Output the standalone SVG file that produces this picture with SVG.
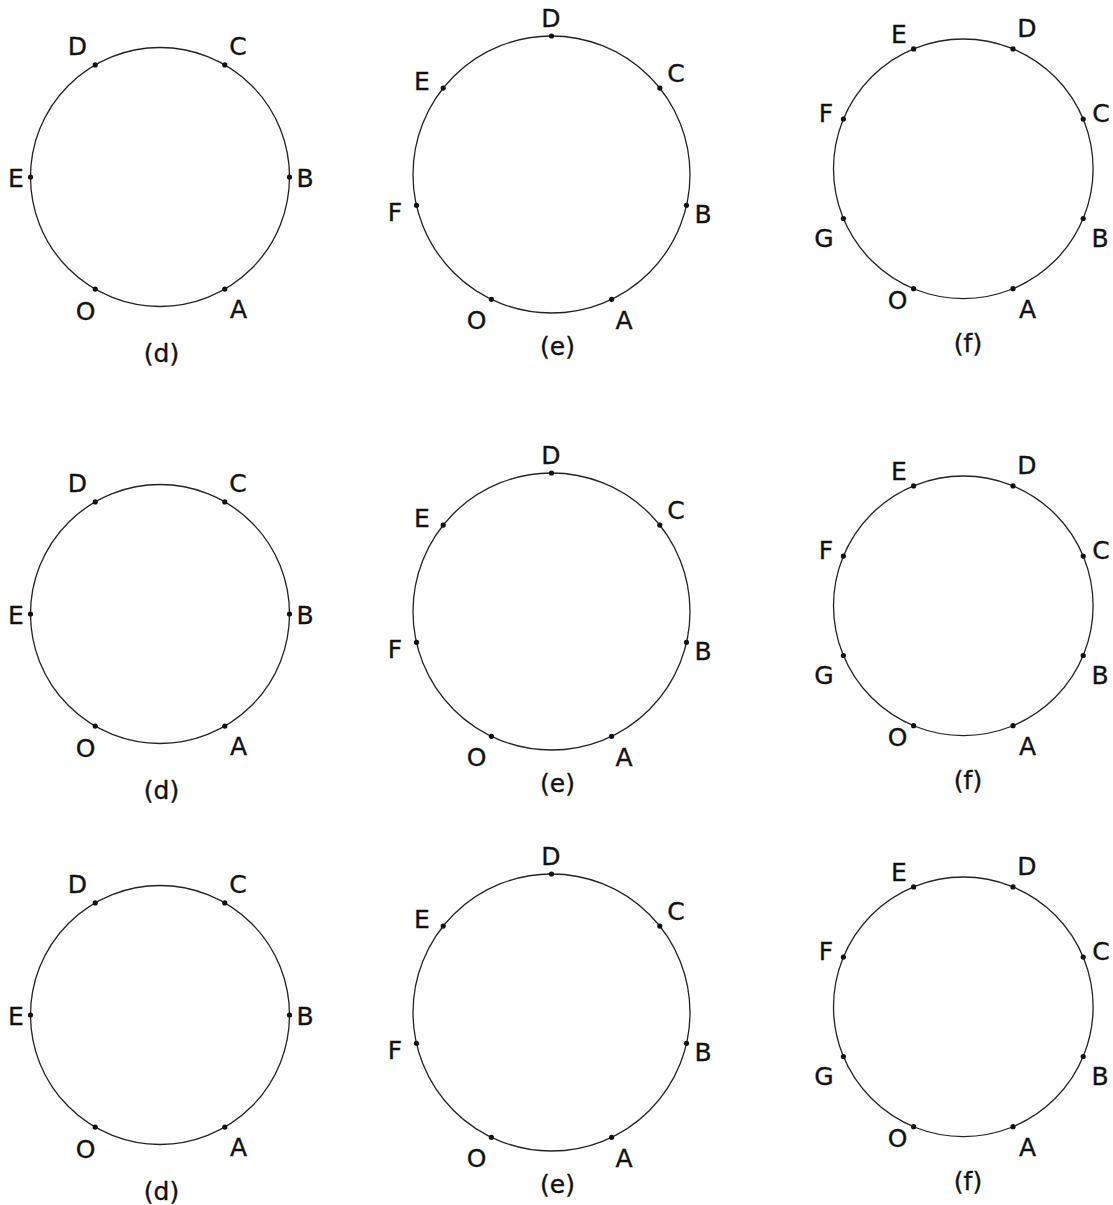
<svg xmlns="http://www.w3.org/2000/svg" width="1113" height="1205" viewBox="0 0 1113 1205">
<style>
.ring{fill:none;stroke:#222;stroke-width:1.3}
.pt{fill:#111}
.lb{font-family:"DejaVu Sans","Liberation Sans",sans-serif;font-size:25px;fill:#111;stroke:#111;stroke-width:0.35;text-anchor:middle}
</style>
<rect width="1113" height="1205" fill="#fff"/>
<g id="row1">
 <g id="connectors1">
  <circle class="ring" cx="160" cy="177" r="129.5"/>
  <circle class="ring" cx="551.5" cy="174.5" r="138.5"/>
  <circle class="ring" cx="963.3" cy="168.8" r="129.8"/>
 </g>
 <g id="d1">
  <g id="d1-B"><circle class="pt" cx="289.5" cy="177" r="2.6"/><text class="lb" x="305" y="186.5">B</text></g>
  <g id="d1-C"><circle class="pt" cx="224.8" cy="64.9" r="2.6"/><text class="lb" x="238" y="54.5">C</text></g>
  <g id="d1-D"><circle class="pt" cx="95.2" cy="64.9" r="2.6"/><text class="lb" x="77.5" y="54.5">D</text></g>
  <g id="d1-E"><circle class="pt" cx="30.5" cy="177" r="2.6"/><text class="lb" x="16" y="186.5">E</text></g>
  <g id="d1-O"><circle class="pt" cx="95.2" cy="289.1" r="2.6"/><text class="lb" x="85.5" y="320">O</text></g>
  <g id="d1-A"><circle class="pt" cx="224.8" cy="289.1" r="2.6"/><text class="lb" x="238.5" y="317.5">A</text></g>
  <text class="lb" x="161.5" y="362">(d)</text>
 </g>
 <g id="e1">
  <g id="e1-D"><circle class="pt" cx="551.5" cy="36" r="2.6"/><text class="lb" x="551" y="27">D</text></g>
  <g id="e1-C"><circle class="pt" cx="659.8" cy="88.1" r="2.6"/><text class="lb" x="676" y="81.5">C</text></g>
  <g id="e1-B"><circle class="pt" cx="686.5" cy="205.3" r="2.6"/><text class="lb" x="703" y="222.5">B</text></g>
  <g id="e1-A"><circle class="pt" cx="611.6" cy="299.3" r="2.6"/><text class="lb" x="624" y="328.5">A</text></g>
  <g id="e1-O"><circle class="pt" cx="491.4" cy="299.3" r="2.6"/><text class="lb" x="476.5" y="329">O</text></g>
  <g id="e1-F"><circle class="pt" cx="416.5" cy="205.3" r="2.6"/><text class="lb" x="395" y="220.5">F</text></g>
  <g id="e1-E"><circle class="pt" cx="443.2" cy="88.1" r="2.6"/><text class="lb" x="422" y="89.5">E</text></g>
  <text class="lb" x="557.5" y="355">(e)</text>
 </g>
 <g id="f1">
  <g id="f1-D"><circle class="pt" cx="1013" cy="48.9" r="2.6"/><text class="lb" x="1027" y="36.5">D</text></g>
  <g id="f1-E"><circle class="pt" cx="913.6" cy="48.9" r="2.6"/><text class="lb" x="899" y="42.5">E</text></g>
  <g id="f1-C"><circle class="pt" cx="1083.2" cy="119.1" r="2.6"/><text class="lb" x="1101" y="122">C</text></g>
  <g id="f1-F"><circle class="pt" cx="843.4" cy="119.1" r="2.6"/><text class="lb" x="826" y="122">F</text></g>
  <g id="f1-B"><circle class="pt" cx="1083.2" cy="218.5" r="2.6"/><text class="lb" x="1100" y="246.5">B</text></g>
  <g id="f1-G"><circle class="pt" cx="843.4" cy="218.5" r="2.6"/><text class="lb" x="824" y="247">G</text></g>
  <g id="f1-A"><circle class="pt" cx="1013" cy="288.7" r="2.6"/><text class="lb" x="1027.5" y="317.5">A</text></g>
  <g id="f1-O"><circle class="pt" cx="913.6" cy="288.7" r="2.6"/><text class="lb" x="897.5" y="309">O</text></g>
  <text class="lb" x="968" y="352">(f)</text>
 </g>
</g>
<g id="row2" transform="translate(0,437)">
 <g id="connectors2">
  <circle class="ring" cx="160" cy="177" r="129.5"/>
  <circle class="ring" cx="551.5" cy="174.5" r="138.5"/>
  <circle class="ring" cx="963.3" cy="168.8" r="129.8"/>
 </g>
 <g id="d2">
  <g id="d2-B"><circle class="pt" cx="289.5" cy="177" r="2.6"/><text class="lb" x="305" y="186.5">B</text></g>
  <g id="d2-C"><circle class="pt" cx="224.8" cy="64.9" r="2.6"/><text class="lb" x="238" y="54.5">C</text></g>
  <g id="d2-D"><circle class="pt" cx="95.2" cy="64.9" r="2.6"/><text class="lb" x="77.5" y="54.5">D</text></g>
  <g id="d2-E"><circle class="pt" cx="30.5" cy="177" r="2.6"/><text class="lb" x="16" y="186.5">E</text></g>
  <g id="d2-O"><circle class="pt" cx="95.2" cy="289.1" r="2.6"/><text class="lb" x="85.5" y="320">O</text></g>
  <g id="d2-A"><circle class="pt" cx="224.8" cy="289.1" r="2.6"/><text class="lb" x="238.5" y="317.5">A</text></g>
  <text class="lb" x="161.5" y="362">(d)</text>
 </g>
 <g id="e2">
  <g id="e2-D"><circle class="pt" cx="551.5" cy="36" r="2.6"/><text class="lb" x="551" y="27">D</text></g>
  <g id="e2-C"><circle class="pt" cx="659.8" cy="88.1" r="2.6"/><text class="lb" x="676" y="81.5">C</text></g>
  <g id="e2-B"><circle class="pt" cx="686.5" cy="205.3" r="2.6"/><text class="lb" x="703" y="222.5">B</text></g>
  <g id="e2-A"><circle class="pt" cx="611.6" cy="299.3" r="2.6"/><text class="lb" x="624" y="328.5">A</text></g>
  <g id="e2-O"><circle class="pt" cx="491.4" cy="299.3" r="2.6"/><text class="lb" x="476.5" y="329">O</text></g>
  <g id="e2-F"><circle class="pt" cx="416.5" cy="205.3" r="2.6"/><text class="lb" x="395" y="220.5">F</text></g>
  <g id="e2-E"><circle class="pt" cx="443.2" cy="88.1" r="2.6"/><text class="lb" x="422" y="89.5">E</text></g>
  <text class="lb" x="557.5" y="355">(e)</text>
 </g>
 <g id="f2">
  <g id="f2-D"><circle class="pt" cx="1013" cy="48.9" r="2.6"/><text class="lb" x="1027" y="36.5">D</text></g>
  <g id="f2-E"><circle class="pt" cx="913.6" cy="48.9" r="2.6"/><text class="lb" x="899" y="42.5">E</text></g>
  <g id="f2-C"><circle class="pt" cx="1083.2" cy="119.1" r="2.6"/><text class="lb" x="1101" y="122">C</text></g>
  <g id="f2-F"><circle class="pt" cx="843.4" cy="119.1" r="2.6"/><text class="lb" x="826" y="122">F</text></g>
  <g id="f2-B"><circle class="pt" cx="1083.2" cy="218.5" r="2.6"/><text class="lb" x="1100" y="246.5">B</text></g>
  <g id="f2-G"><circle class="pt" cx="843.4" cy="218.5" r="2.6"/><text class="lb" x="824" y="247">G</text></g>
  <g id="f2-A"><circle class="pt" cx="1013" cy="288.7" r="2.6"/><text class="lb" x="1027.5" y="317.5">A</text></g>
  <g id="f2-O"><circle class="pt" cx="913.6" cy="288.7" r="2.6"/><text class="lb" x="897.5" y="309">O</text></g>
  <text class="lb" x="968" y="352">(f)</text>
 </g>
</g>
<g id="row3" transform="translate(0,838)">
 <g id="connectors3">
  <circle class="ring" cx="160" cy="177" r="129.5"/>
  <circle class="ring" cx="551.5" cy="174.5" r="138.5"/>
  <circle class="ring" cx="963.3" cy="168.8" r="129.8"/>
 </g>
 <g id="d3">
  <g id="d3-B"><circle class="pt" cx="289.5" cy="177" r="2.6"/><text class="lb" x="305" y="186.5">B</text></g>
  <g id="d3-C"><circle class="pt" cx="224.8" cy="64.9" r="2.6"/><text class="lb" x="238" y="54.5">C</text></g>
  <g id="d3-D"><circle class="pt" cx="95.2" cy="64.9" r="2.6"/><text class="lb" x="77.5" y="54.5">D</text></g>
  <g id="d3-E"><circle class="pt" cx="30.5" cy="177" r="2.6"/><text class="lb" x="16" y="186.5">E</text></g>
  <g id="d3-O"><circle class="pt" cx="95.2" cy="289.1" r="2.6"/><text class="lb" x="85.5" y="320">O</text></g>
  <g id="d3-A"><circle class="pt" cx="224.8" cy="289.1" r="2.6"/><text class="lb" x="238.5" y="317.5">A</text></g>
  <text class="lb" x="161.5" y="362">(d)</text>
 </g>
 <g id="e3">
  <g id="e3-D"><circle class="pt" cx="551.5" cy="36" r="2.6"/><text class="lb" x="551" y="27">D</text></g>
  <g id="e3-C"><circle class="pt" cx="659.8" cy="88.1" r="2.6"/><text class="lb" x="676" y="81.5">C</text></g>
  <g id="e3-B"><circle class="pt" cx="686.5" cy="205.3" r="2.6"/><text class="lb" x="703" y="222.5">B</text></g>
  <g id="e3-A"><circle class="pt" cx="611.6" cy="299.3" r="2.6"/><text class="lb" x="624" y="328.5">A</text></g>
  <g id="e3-O"><circle class="pt" cx="491.4" cy="299.3" r="2.6"/><text class="lb" x="476.5" y="329">O</text></g>
  <g id="e3-F"><circle class="pt" cx="416.5" cy="205.3" r="2.6"/><text class="lb" x="395" y="220.5">F</text></g>
  <g id="e3-E"><circle class="pt" cx="443.2" cy="88.1" r="2.6"/><text class="lb" x="422" y="89.5">E</text></g>
  <text class="lb" x="557.5" y="355">(e)</text>
 </g>
 <g id="f3">
  <g id="f3-D"><circle class="pt" cx="1013" cy="48.9" r="2.6"/><text class="lb" x="1027" y="36.5">D</text></g>
  <g id="f3-E"><circle class="pt" cx="913.6" cy="48.9" r="2.6"/><text class="lb" x="899" y="42.5">E</text></g>
  <g id="f3-C"><circle class="pt" cx="1083.2" cy="119.1" r="2.6"/><text class="lb" x="1101" y="122">C</text></g>
  <g id="f3-F"><circle class="pt" cx="843.4" cy="119.1" r="2.6"/><text class="lb" x="826" y="122">F</text></g>
  <g id="f3-B"><circle class="pt" cx="1083.2" cy="218.5" r="2.6"/><text class="lb" x="1100" y="246.5">B</text></g>
  <g id="f3-G"><circle class="pt" cx="843.4" cy="218.5" r="2.6"/><text class="lb" x="824" y="247">G</text></g>
  <g id="f3-A"><circle class="pt" cx="1013" cy="288.7" r="2.6"/><text class="lb" x="1027.5" y="317.5">A</text></g>
  <g id="f3-O"><circle class="pt" cx="913.6" cy="288.7" r="2.6"/><text class="lb" x="897.5" y="309">O</text></g>
  <text class="lb" x="968" y="352">(f)</text>
 </g>
</g>
</svg>
